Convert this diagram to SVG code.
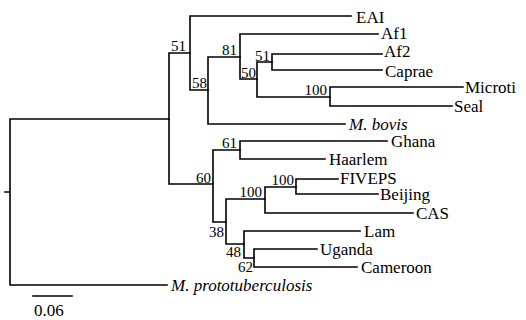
<svg xmlns="http://www.w3.org/2000/svg" width="526" height="320" viewBox="0 0 526 320">
<style>
.br{fill:none;stroke:#000;stroke-width:1.6;stroke-linecap:square}
.lf{font-family:"Liberation Serif","Times New Roman",serif;font-size:17px;fill:#000}
.it{font-style:italic}
.bs{font-family:"Liberation Serif","Times New Roman",serif;font-size:15px;fill:#000;text-anchor:end}
</style>
<rect width="526" height="320" fill="#fff"/>
<g id="connectors" class="br">
<path d="M5,192H10M10,119V285M10,119H169M10,285H167"/>
<path d="M169,53V184M169,53H190M169,184H213"/>
<path d="M190,16V90M190,16H351M190,90H208"/>
<path d="M208,57V124M208,57H240M208,124H345"/>
<path d="M240,34V79M240,34H378M240,79H257"/>
<path d="M257,62V97M257,62H272M257,97H330"/>
<path d="M272,54V70M272,54H382M272,70H382"/>
<path d="M330,87V106M330,87H463M330,106H452"/>
<path d="M213,150V222M213,150H240M213,222H226"/>
<path d="M240,141V159M240,141H387M240,159H325"/>
<path d="M226,199V244M226,199H265M226,244H244"/>
<path d="M265,187V213M265,187H296M265,213H413"/>
<path d="M296,179V194M296,179H338M296,194H378"/>
<path d="M244,231V258M244,231H360M244,258H254"/>
<path d="M254,249V267M254,249H317M254,267H357"/>
</g>
<g id="n51a"><text class="bs" x="186" y="51">51</text></g>
<g id="n58"><text class="bs" x="207" y="88">58</text></g>
<g id="n81"><text class="bs" x="237" y="55">81</text></g>
<g id="n50"><text class="bs" x="256" y="78">50</text></g>
<g id="n51b"><text class="bs" x="270" y="61">51</text></g>
<g id="n100a"><text class="bs" x="327" y="95">100</text></g>
<g id="n60"><text class="bs" x="211" y="183">60</text></g>
<g id="n61"><text class="bs" x="237" y="148">61</text></g>
<g id="n100b"><text class="bs" x="262" y="197">100</text></g>
<g id="n100c"><text class="bs" x="294" y="185">100</text></g>
<g id="n38"><text class="bs" x="224" y="237">38</text></g>
<g id="n48"><text class="bs" x="241" y="257">48</text></g>
<g id="n62"><text class="bs" x="253" y="272">62</text></g>
<g id="EAI"><text class="lf" x="356" y="23">EAI</text></g>
<g id="Af1"><text class="lf" x="381" y="39">Af1</text></g>
<g id="Af2"><text class="lf" x="384" y="57">Af2</text></g>
<g id="Caprae"><text class="lf" x="385" y="77">Caprae</text></g>
<g id="Microti"><text class="lf" x="465" y="93">Microti</text></g>
<g id="Seal"><text class="lf" x="454" y="112">Seal</text></g>
<g id="Mbovis"><text class="lf it" x="349" y="130">M. bovis</text></g>
<g id="Ghana"><text class="lf" x="391" y="147">Ghana</text></g>
<g id="Haarlem"><text class="lf" x="329" y="165">Haarlem</text></g>
<g id="FIVEPS"><text class="lf" x="340" y="184">FIVEPS</text></g>
<g id="Beijing"><text class="lf" x="380" y="200">Beijing</text></g>
<g id="CAS"><text class="lf" x="416" y="219">CAS</text></g>
<g id="Lam"><text class="lf" x="364" y="237">Lam</text></g>
<g id="Uganda"><text class="lf" x="320" y="255">Uganda</text></g>
<g id="Cameroon"><text class="lf" x="361" y="273">Cameroon</text></g>
<g id="Mproto"><text class="lf it" x="171" y="291">M. prototuberculosis</text></g>
<g id="scale"><path class="br" d="M33,296H72"/><text class="lf" x="34" y="316">0.06</text></g>
</svg>
